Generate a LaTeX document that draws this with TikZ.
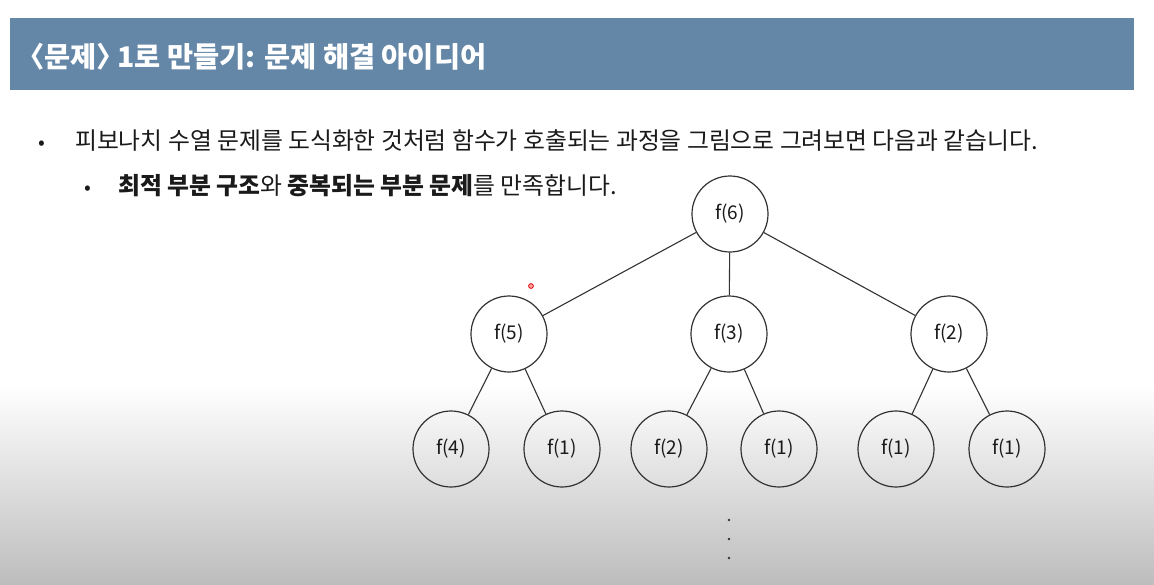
\documentclass[tikz,border=0pt]{standalone}
\usepackage{fontspec}
\usepackage{tikz}
\setmainfont{Noto Sans CJK KR}
\newfontfamily\titlefont[RawFeature=+halt]{Noto Sans CJK KR}
\definecolor{TitleBlue}{HTML}{6487A8}
\definecolor{LineGray}{HTML}{333333}
\definecolor{TextBlack}{HTML}{1A1A1A}
\definecolor{FloorGray}{HTML}{BDBDBD}

\begin{document}
\begin{tikzpicture}[x=1pt,y=-1pt,
  every node/.style={text=TextBlack},
  title/.style={font=\titlefont\fontsize{28.4}{32}\selectfont\bfseries,text=white,anchor=base west,inner sep=0pt},
  bodytext/.style={font=\fontsize{23.8}{28}\selectfont,anchor=base west,inner sep=0pt},
  bullet/.style={font=\fontsize{20}{24}\selectfont,anchor=base,inner sep=0pt},
  call/.style={draw=LineGray,line width=1.2pt,circle,minimum size=76pt,inner sep=0pt,font=\fontsize{19}{22}\selectfont},
  link/.style={draw=LineGray,line width=1.1pt}
]
% background and title bar
\fill[white] (0,0) rectangle (1154,584);
\shade[top color=white,bottom color=FloorGray] (0,385) rectangle (1154,584);
\useasboundingbox (0,0) rectangle (1154,584);
\fill[TitleBlue] (10,18) rectangle (1134,90);
\node[title] (head) at (30,67) {〈문제〉 1로 만들기: 문제 해결 아이디어};

% bullet points
\node[bullet] (dot1) at (42,149) {•};
\node[bodytext] (line1) at (75,149) {피보나치 수열 문제를 도식화한 것처럼 함수가 호출되는 과정을 그림으로 그려보면 다음과 같습니다.};
\node[bullet] (dot2) at (88,194) {•};
\node[bodytext] (line2) at (118,194) {\textbf{최적 부분 구조}와 \textbf{중복되는 부분 문제}를 만족합니다.};

% call tree
\node[call] (f6) at (730,214) {f(6)};
\node[call] (f5) at (509,334) {f(5)};
\node[call] (f3) at (729,334) {f(3)};
\node[call] (f2) at (949,334) {f(2)};
\node[call] (f4a) at (451,449) {f(4)};
\node[call] (f1a) at (562,449) {f(1)};
\node[call] (f2a) at (669,449) {f(2)};
\node[call] (f1b) at (779,449) {f(1)};
\node[call] (f1c) at (896,449) {f(1)};
\node[call] (f1d) at (1007,449) {f(1)};
\draw[link] (f6)--(f5);
\draw[link] (f6)--(f3);
\draw[link] (f6)--(f2);
\draw[link] (f5)--(f4a);
\draw[link] (f5)--(f1a);
\draw[link] (f3)--(f2a);
\draw[link] (f3)--(f1b);
\draw[link] (f2)--(f1c);
\draw[link] (f2)--(f1d);

% more calls below
\foreach \y in {520,539,558}
  \fill[LineGray] (729,\y) circle (1.4);

% pointer
\draw[red!85!black,fill=red!35,line width=0.8pt] (531,286) circle (2.4);
\end{tikzpicture}
\end{document}
